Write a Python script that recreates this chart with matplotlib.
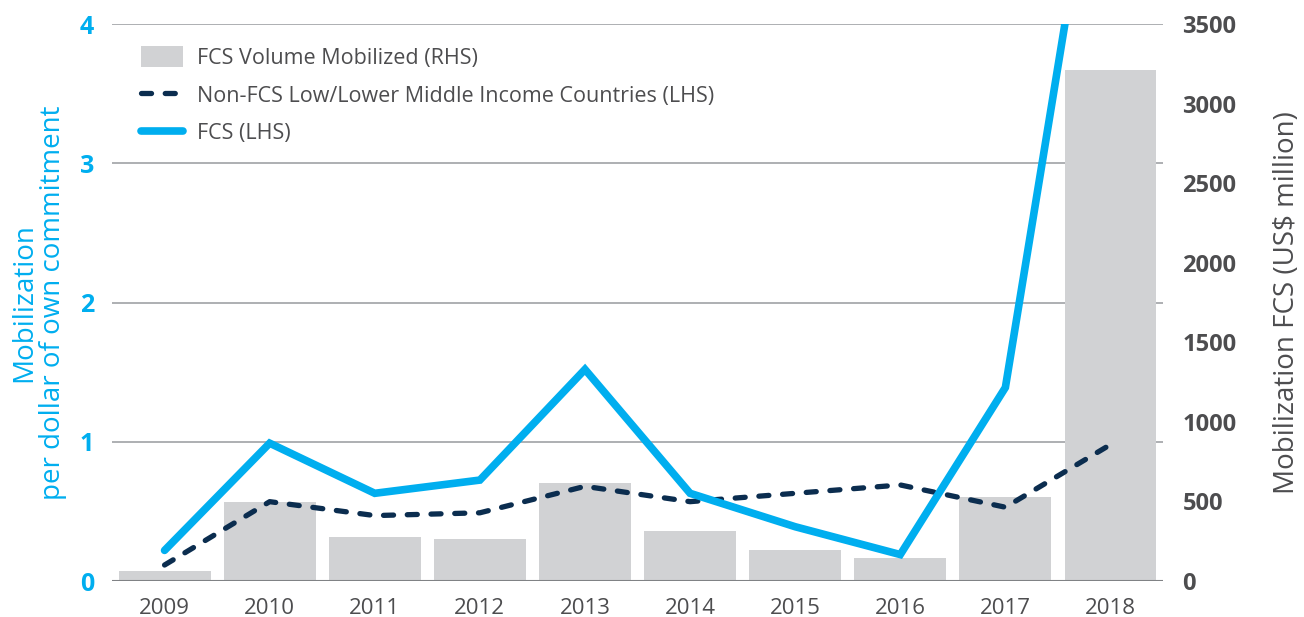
import matplotlib
matplotlib.use("Agg")
import matplotlib.pyplot as plt
from matplotlib.lines import Line2D
from matplotlib.patches import Patch

plt.rcParams['font.family'] = ['Open Sans', 'DejaVu Sans']

years = ['2009', '2010', '2011', '2012', '2013', '2014', '2015', '2016', '2017', '2018']
fcs_volume = [63, 496, 276, 264, 616, 314, 195, 144, 528, 3210]          # RHS, US$ million
non_fcs = [0.115, 0.57, 0.47, 0.49, 0.68, 0.57, 0.63, 0.69, 0.53, 0.98]   # LHS
fcs = [0.22, 0.99, 0.63, 0.725, 1.52, 0.63, 0.39, 0.19, 1.39, 6.0]        # LHS
left_ticks = [0, 1, 2, 3, 4]
right_ticks = [0, 500, 1000, 1500, 2000, 2500, 3000, 3500]

BLUE = '#00AEEF'
NAVY = '#0B2D4F'
BAR = '#D1D2D4'
GRAY = '#4D4D4F'
GRID = '#A7A9AC'
DASH = (0, (1.9, 2.6))

fig = plt.figure(figsize=(13.04, 6.17), dpi=100)
ax = fig.add_axes([0.0859, 0.0583, 0.806, 0.9027])
ax2 = ax.twinx()
ax.set_zorder(2)
ax2.set_zorder(1)
ax.patch.set_visible(False)

x = list(range(len(years)))
ax2.bar(x, fcs_volume, width=0.875, color=BAR, zorder=2)
ax2.set_ylim(0, 3500)
ax.set_ylim(0, 4)
ax.set_xlim(-0.5, len(years) - 0.5)
for t in left_ticks[1:]:
    ax2.axhline(t * 3500 / left_ticks[-1], color=GRID, lw=1.3, zorder=1)
ax2.axhline(0, color='#808285', lw=1.5, zorder=3)

ax.plot(x, non_fcs, color=NAVY, lw=3.8, ls=DASH, dash_capstyle='round', zorder=3)
ax.plot(x, fcs, color=BLUE, lw=5.5, solid_capstyle='round', solid_joinstyle='miter', zorder=4)

for a in (ax, ax2):
    for s in a.spines.values():
        s.set_visible(False)
    a.tick_params(length=0)

ax.set_xticks(x)
ax.set_xticklabels(years, color=GRAY, fontsize=16)
ax.tick_params(axis='x', pad=12)
ax.set_yticks(left_ticks)
ax.set_yticklabels([str(t) for t in left_ticks], color=BLUE, fontsize=18, fontweight='bold')
ax.tick_params(axis='y', pad=13)
ax2.set_yticks(right_ticks)
ax2.set_yticklabels([str(t) for t in right_ticks], color=GRAY, fontsize=17, fontweight='bold')
ax2.tick_params(axis='y', pad=14)

ax.set_ylabel('Mobilization\nper dollar of own commitment', color=BLUE, fontsize=20,
              linespacing=1.05, labelpad=9)
ax2.set_ylabel('Mobilization FCS (US$ million)', color=GRAY, fontsize=20, labelpad=26)

handles = [Patch(facecolor=BAR, edgecolor='none'),
           Line2D([], [], color=NAVY, lw=3.8, ls=DASH, dash_capstyle='round'),
           Line2D([], [], color=BLUE, lw=5.5, solid_capstyle='round')]
labels = ['FCS Volume Mobilized (RHS)',
          'Non-FCS Low/Lower Middle Income Countries (LHS)',
          'FCS (LHS)']
leg = ax.legend(handles, labels, loc='upper left', bbox_to_anchor=(0.0276, 0.96),
                borderaxespad=0, borderpad=0,
                frameon=False, fontsize=15.5, handlelength=1.95, handleheight=1.1,
                labelspacing=0.7, handletextpad=0.65)
for t in leg.get_texts():
    t.set_color(GRAY)

fig.savefig('out.png', dpi=100)
